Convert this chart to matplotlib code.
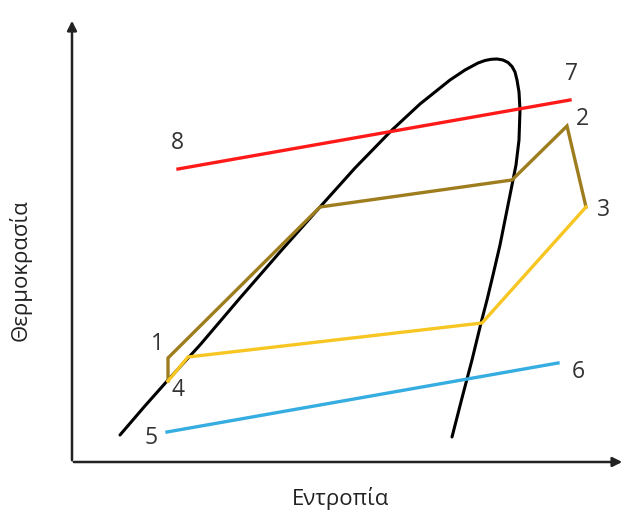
import matplotlib.pyplot as plt

# Coordenadas en pixeles de la imagen (origen arriba a la izquierda)
dome_x = [120, 144, 168, 200, 240, 280, 320, 355, 392, 420, 450, 465, 478, 485,
          491, 497, 503, 508, 512, 515, 517, 519, 520, 519, 516, 513,
          507, 500, 493, 487, 481, 472, 462, 452]
dome_y = [435, 407, 380, 345, 298, 252, 207, 168, 130, 104, 80, 70, 63, 60.5,
          59.3, 59, 60, 62.5, 66.5, 72, 80, 92, 110, 140, 165, 180,
          210, 245, 275, 300, 323, 360, 398, 437]

red_x = [178, 570]
red_y = [169, 100]

brown_x = [168, 168, 320, 512, 567, 586]
brown_y = [381, 358, 207, 180, 126, 207]

yellow_x = [586, 482, 188, 168]
yellow_y = [207, 323, 357, 381]

blue_x = [167, 558]
blue_y = [432, 363]

labels = ["1", "2", "3", "4", "5", "6", "7", "8"]
label_x = [157, 582, 604, 178, 151, 578, 572, 177]
label_y = [344, 119, 210, 390, 438, 372, 74, 143]

fig = plt.figure(figsize=(6.25, 5.13), dpi=100)
ax = fig.add_axes([0, 0, 1, 1])
ax.set_xlim(0, 625)
ax.set_ylim(513, 0)
ax.axis("off")

fam = ["Open Sans", "DejaVu Sans"]

# ejes con flechas
ax.annotate("", xy=(72, 18), xytext=(72, 463),
            arrowprops=dict(arrowstyle="-|>", color="#222222", lw=1.8, mutation_scale=14))
ax.annotate("", xy=(625, 462), xytext=(71, 462),
            arrowprops=dict(arrowstyle="-|>", color="#222222", lw=1.8, mutation_scale=14))

ax.plot(dome_x, dome_y, color="black", lw=2.2, solid_capstyle="round", solid_joinstyle="round")
ax.plot(red_x, red_y, color="#ff1a1a", lw=2.4)
ax.plot(brown_x, brown_y, color="#9e7d1f", lw=2.4, solid_joinstyle="miter")
ax.plot(yellow_x, yellow_y, color="#f7c623", lw=2.4, solid_joinstyle="miter")
ax.plot(blue_x, blue_y, color="#35ade0", lw=2.4)

for t, x, y in zip(labels, label_x, label_y):
    ax.text(x, y, t, fontsize=16.5, color="#333333", ha="center", va="center", family=fam)

ax.text(340, 499, "Εντροπία", fontsize=16, color="#222222", ha="center", va="center",
        family=fam)
ax.text(20, 270, "Θερμοκρασία", fontsize=16, color="#222222", ha="center", va="center",
        rotation=90, family=fam)

fig.savefig("out.png", dpi=100)
